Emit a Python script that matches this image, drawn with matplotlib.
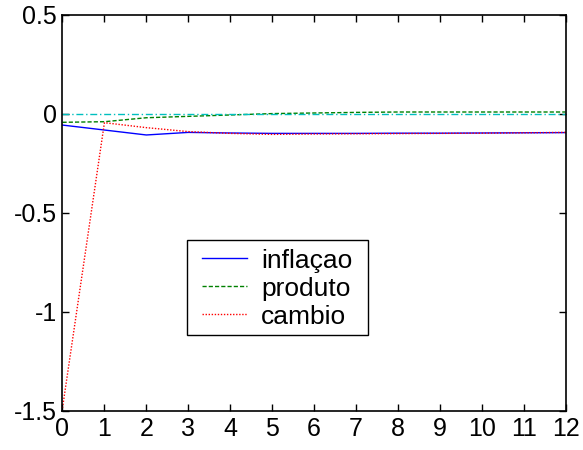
import numpy as np
import matplotlib
matplotlib.use('Agg')
from matplotlib import pyplot as plt
from matplotlib.patches import Rectangle

plt.rcParams['font.family'] = ['Liberation Sans', 'DejaVu Sans']

periods = list(range(13))
inflacao = [-0.056, -0.081, -0.106, -0.093, -0.096, -0.098, -0.098, -0.098, -0.097, -0.097, -0.096, -0.095, -0.094]
produto = [-0.042, -0.039, -0.019, -0.012, -0.005, 0.002, 0.005, 0.008, 0.010, 0.010, 0.010, 0.010, 0.010]
cambio = [-1.485, -0.044, -0.069, -0.089, -0.098, -0.103, -0.101, -0.100, -0.099, -0.098, -0.097, -0.095, -0.093]
zero_line = [0.0] * 13
labels = ['inflaçao', 'produto', 'cambio']


def main():
    fig = plt.figure(figsize=(5.83, 4.5), dpi=100)
    ax = fig.add_axes([0.1072, 0.0867, 0.8628, 0.88])

    ax.plot(periods, inflacao, color=(0, 0, 1), lw=1.0, ls='-', label=labels[0])
    ax.plot(periods, produto, color=(0, 0.5, 0), lw=1.0, ls=(0, (3, 1.5)), label=labels[1])
    ax.plot(periods, cambio, color=(1, 0, 0), lw=1.0, ls=(0, (1, 1.2)), label=labels[2])
    ax.plot(periods, zero_line, color=(0, 0.75, 0.75), lw=1.0, ls=(0, (5, 2, 1, 2)))

    ax.set_xlim(0, 12)
    ax.set_ylim(-1.5, 0.5)
    ax.set_xticks(periods)
    ax.set_yticks([-1.5, -1, -0.5, 0, 0.5])
    ax.set_yticklabels(['-1.5', '-1', '-0.5', '0', '0.5'])
    ax.tick_params(direction='in', top=True, right=True, length=5, width=1, labelsize=18, pad=4)
    for sp in ax.spines.values():
        sp.set_linewidth(1.2)

    # legend box drawn separately: wider side padding than matplotlib allows
    box = Rectangle((0.2475, 0.192), 0.36, 0.24, transform=ax.transAxes,
                    facecolor='white', edgecolor='black', lw=1.0, zorder=4)
    ax.add_patch(box)
    leg = ax.legend(loc='upper left', bbox_to_anchor=(0.2773, 0.41), fontsize=19,
                    frameon=False, handlelength=1.7, handletextpad=0.55,
                    borderpad=0, labelspacing=0.15, borderaxespad=0)
    leg.set_zorder(5)

    fig.savefig('out.png', dpi=100)


if __name__ == '__main__':
    main()
